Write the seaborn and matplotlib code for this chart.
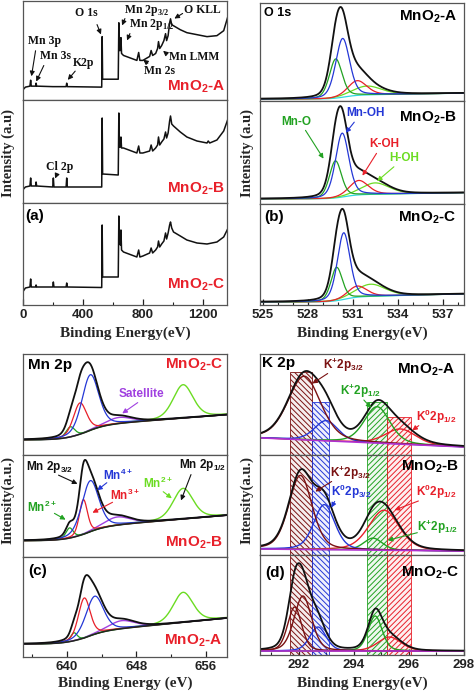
import numpy as np
import matplotlib
matplotlib.use('Agg')
import matplotlib.pyplot as plt
import seaborn as sns

# ---------------- data ----------------
# (a) survey spectra: binding energy (eV) / intensity (a.u.)
survey_names = ['A', 'B', 'C']
survey_A_E = [0, 18, 48, 53, 57, 86, 89, 93, 200, 289, 293, 297, 526, 529, 532, 636, 640, 644, 650, 654, 658, 671, 760, 772, 780, 800, 845, 855, 865, 885, 898, 904, 912, 925, 940, 951, 958, 968, 978, 984, 992, 1004, 1049, 1093, 1160, 1227, 1293, 1338, 1371]
survey_A_I = [10, 13, 14, 20, 14, 14, 17, 14, 13.5, 13.5, 17, 13.5, 13, 64, 21, 21, 78, 50, 50, 63, 47, 45, 40, 48, 40, 40, 44, 50, 45, 47, 52, 59, 52, 55, 60, 67, 60, 65, 78, 82, 76, 75, 71, 68, 66, 64, 65, 70, 87]
survey_B_E = [0, 18, 48, 53, 57, 86, 89, 93, 200, 204, 208, 289, 293, 297, 526, 529, 532, 636, 640, 644, 650, 654, 658, 671, 760, 772, 780, 800, 845, 855, 865, 885, 898, 904, 912, 925, 940, 951, 958, 968, 978, 984, 992, 1004, 1049, 1093, 1160, 1227, 1235, 1245, 1293, 1338, 1371]
survey_B_I = [13, 16, 17, 25, 17, 17, 21, 17, 16, 25, 16, 16, 25, 16, 16, 85, 29, 28, 90, 56, 56, 66, 55, 55, 50, 57, 50, 50, 52, 58, 52, 55, 58, 66, 58, 61, 64, 71, 65, 70, 82, 87, 79, 77, 71, 66, 62, 60, 62, 60, 63, 72, 86]
survey_C_E = [0, 18, 48, 53, 57, 86, 89, 93, 200, 204, 208, 289, 293, 297, 526, 529, 532, 636, 640, 644, 650, 654, 658, 671, 760, 772, 780, 800, 845, 855, 865, 885, 898, 904, 912, 925, 940, 951, 958, 968, 978, 984, 992, 1004, 1049, 1093, 1160, 1227, 1293, 1338, 1371]
survey_C_I = [13, 17, 18, 26, 18, 18, 20, 18, 18, 23, 18, 18, 22, 18, 17.5, 80, 28, 28, 89, 62, 60, 75, 55, 53, 48, 55, 48, 49, 52, 57, 52, 55, 58, 64, 58, 61, 64, 72, 66, 72, 80, 83, 77, 73, 69, 65, 62, 61, 63, 68, 78]
survey_ymax = [100, 103, 102]

# (b) O 1s fitted components (rows: MnO2-A, B, C; cols: Mn-O, Mn-OH, K-OH, H-OH)
o1s_components = ['Mn-O', 'Mn-OH', 'K-OH', 'H-OH']
o1s_center = [[529.87, 530.33, 531.3, 531.95], [529.85, 530.3, 531.4, 532.5], [529.93, 530.4, 531.3, 532.2]]
o1s_height = [[0.40, 0.60, 0.15, 0.09], [0.36, 0.62, 0.14, 0.11], [0.33, 0.66, 0.11, 0.12]]
o1s_fwhm = [[1.0, 1.1, 1.5, 2.3], [0.95, 1.05, 1.5, 2.2], [0.9, 1.0, 1.5, 2.3]]
o1s_bg = [[0.02, 0.06, 0.08], [0.05, 0.09, 0.11], [0.03, 0.08, 0.11]]

# (c) Mn 2p fitted components (rows: MnO2-C, B, A; cols: Mn2+, Mn3+, Mn4+, satellite, Mn 2p1/2)
mn2p_center = [[640.4, 641.5, 642.7, 646.0, 653.4], [640.3, 641.9, 642.7, 645.8, 653.4], [640.8, 642.0, 643.2, 646.3, 653.4]]
mn2p_height = [[0.10, 0.31, 0.55, 0.06, 0.33], [0.10, 0.34, 0.50, 0.08, 0.30], [0.08, 0.40, 0.38, 0.08, 0.30]]
mn2p_fwhm = [[1.2, 1.8, 2.3, 3.5, 2.7], [1.0, 1.1, 2.3, 3.5, 2.7], [0.9, 1.6, 2.4, 3.5, 2.7]]
mn2p_bg = [[0.15, 0.29, 0.40], [0.16, 0.29, 0.41], [0.13, 0.25, 0.39]]

# (d) K 2p fitted components (rows: MnO2-A, B, C; cols: K+2p3/2, K+2p3/2 (2nd), K0 2p3/2, K+2p1/2, K0 2p1/2)
k2p_center = [[292.2, 292.2, 293.0, 294.85, 295.7], [292.06, 292.1, 292.93, 294.7, 295.1], [291.85, 292.15, 292.7, 294.78, 295.3]]
k2p_height = [[0.63, 0.0, 0.20, 0.36, 0.15], [0.74, 0.0, 0.45, 0.12, 0.40], [0.44, 0.55, 0.24, 0.35, 0.14]]
k2p_fwhm = [[1.4, 1.0, 1.0, 1.1, 1.3], [1.0, 1.0, 0.9, 0.8, 1.3], [0.6, 0.75, 0.7, 0.6, 1.0]]
k2p_bg = [[0.17, 0.08], [0.06, 0.04], [0.04, 0.04]]
k2p_band_lo = [291.7, 292.5, 294.47, 295.2]
k2p_band_hi = [292.5, 293.1, 295.2, 296.08]
k2p_band_top = [0.82, 0.52, 0.52, 0.38]

# ---------------- style ----------------
sns.set_theme(style='white')
plt.rcParams['font.family'] = ['Liberation Sans', 'DejaVu Sans']
plt.rcParams['font.weight'] = 'bold'
plt.rcParams['mathtext.fontset'] = 'custom'
plt.rcParams['mathtext.rm'] = 'Liberation Serif:bold'
plt.rcParams['mathtext.sf'] = 'Liberation Sans:bold'
plt.rcParams['mathtext.bf'] = 'Liberation Sans:bold'
plt.rcParams['mathtext.it'] = 'Liberation Sans:bold'
plt.rcParams['hatch.linewidth'] = 0.7

W, H = 474, 694
fig = plt.figure(figsize=(W / 100, H / 100), dpi=100)
fig.patch.set_facecolor('white')


def add_ax(x0, x1, y0, y1):
    return fig.add_axes([x0 / W, 1 - y1 / H, (x1 - x0) / W, (y1 - y0) / H])


def P(x, y):
    return (x / W, 1 - y / H)


def pv(x, c, h, w, eta=0.3):
    g = np.exp(-4 * np.log(2) * ((x - c) / w) ** 2)
    lo = 1 / (1 + 4 * ((x - c) / w) ** 2)
    return h * ((1 - eta) * g + eta * lo)


def step_bg(x, lo, hi, end, c, w):
    s = lo + (hi - lo) / (1 + np.exp(-(x - c) / w))
    return s + np.clip((x - c) / (x.max() - c), 0, None) * (end - hi)


def style_ax(ax, xlim, ylim, bottom=False, major=None, minor=None):
    ax.set_xlim(*xlim)
    ax.set_ylim(*ylim)
    ax.set_yticks([])
    ax.set_xlabel('')
    ax.set_ylabel('')
    for s in ax.spines.values():
        s.set_color('#555555')
        s.set_linewidth(0.9)
    if bottom:
        ax.set_xticks(major)
        ax.set_xticks(minor, minor=True)
        ax.tick_params(axis='x', which='both', direction='in', bottom=True, top=False,
                       colors='#222222', labelsize=9.5, pad=3)
        ax.tick_params(axis='x', which='major', length=4, width=0.9)
        ax.tick_params(axis='x', which='minor', length=2.5, width=0.8)
        for t in ax.get_xticklabels():
            t.set_fontweight('bold')
    else:
        ax.set_xticks([])


def line(ax, x, y, color, lw=0.9):
    sns.lineplot(x=x, y=y, ax=ax, color=color, linewidth=lw, estimator=None, sort=False)


def lab(text, x, y, color='black', size=10.5, ha='left', serif=False, **kw):
    fam = ['Liberation Serif'] if serif else ['Liberation Sans', 'DejaVu Sans']
    fig.text(*P(x, y), text, color=color, fontsize=size, ha=ha, va='center',
             fontweight='bold', family=fam, **kw)


def arrow(text, xt, yt, xa, ya, color, size=8.5, ha='center', serif=False, tip=None):
    fam = ['Liberation Serif'] if serif else ['Liberation Sans', 'DejaVu Sans']
    fig.text(*P(xt, yt), text, color=color, fontsize=size, ha=ha, va='center',
             fontweight='bold', family=fam)
    x0, y0 = tip
    fig.add_artist(matplotlib.patches.FancyArrowPatch(P(x0, y0), P(xa, ya), transform=fig.transFigure,
                   arrowstyle='-|>', mutation_scale=7, color=color, lw=0.8))


RED = '#e8202a'
BLUE = '#2437d6'
GREEN = '#22a222'
LGREEN = '#6bdc22'
PURPLE = '#a040e0'
DRED = '#7a1212'
CYAN = '#30d8e0'

# ---------------- (a) survey ----------------
a_rows = [(1, 100), (100, 203), (203, 305)]
survey_E = [survey_A_E, survey_B_E, survey_C_E]
survey_I = [survey_A_I, survey_B_I, survey_C_I]
for i, (y0, y1) in enumerate(a_rows):
    ax = add_ax(22.7, 227.3, y0, y1)
    line(ax, np.array(survey_E[i]), np.array(survey_I[i]), '#111111', lw=1.1)
    style_ax(ax, (0, 1362), (0, survey_ymax[i]), bottom=(i == 2),
             major=[0, 400, 800, 1200], minor=np.arange(0, 1400, 200))

lab(r'MnO$_\mathsf{2}$-A', 225, 87, color=RED, size=11, ha='right')
lab(r'MnO$_\mathsf{2}$-B', 225, 189, color=RED, size=11, ha='right')
lab(r'MnO$_\mathsf{2}$-C', 225, 285, color=RED, size=11, ha='right')
lab('(a)', 25, 216, size=11)
arrow('O 1s', 86, 13, 102, 37, '#111111', size=8.5, serif=True, tip=(96, 22))
arrow(r'Mn 2p$_{\mathrm{3/2}}$', 147, 10, 121, 28, '#111111', size=8.5, serif=True, tip=(126, 16))
arrow('O KLL', 202, 10, 172, 20, '#111111', size=8.5, serif=True, tip=(185, 12))
arrow(r'Mn 2p$_{\mathrm{1/2}}$', 152, 25, 126, 43, '#111111', size=8.5, serif=True, tip=(131, 31))
arrow('Mn LMM', 194, 57, 161, 49, '#111111', size=8.5, serif=True, tip=(168, 55))
arrow('Mn 2s', 159, 71, 141, 58, '#111111', size=8.5, serif=True, tip=(150, 65))
arrow('Mn 3p', 44, 41, 31, 79, '#111111', size=8.5, serif=True, tip=(36, 48))
arrow('Mn 3s', 56, 56, 35, 84, '#111111', size=8.5, serif=True, tip=(45, 63))
arrow('K2p', 84, 63, 66, 82, '#111111', size=8.5, serif=True, tip=(77, 69))
arrow('Cl 2p', 60, 167, 54, 181, '#111111', size=8.5, serif=True, tip=(57, 174))

# ---------------- (b) O 1s ----------------
b_rows = [(3, 101), (101, 204), (204, 305)]
xb = np.linspace(524.8, 538.4, 700)
o1s_colors = [GREEN, BLUE, RED, LGREEN]
for i, (y0, y1) in enumerate(b_rows):
    ax = add_ax(259.7, 463.7, y0, y1)
    bg = step_bg(xb, o1s_bg[i][0], o1s_bg[i][1], o1s_bg[i][2], 530.4, 0.45)
    comps = [pv(xb, o1s_center[i][k], o1s_height[i][k], o1s_fwhm[i][k]) for k in range(4)]
    line(ax, xb, bg, CYAN, lw=0.9)
    for k in [3, 2, 0, 1]:
        line(ax, xb, bg + comps[k], o1s_colors[k], lw=0.9)
    line(ax, xb, bg + sum(comps), '#111111', lw=1.3)
    style_ax(ax, (524.8, 538.4), (0, 1), bottom=(i == 2),
             major=[525, 528, 531, 534, 537], minor=np.arange(525, 539, 1))

lab('O 1s', 264, 13, size=9)
lab(r'MnO$_\mathsf{2}$-A', 457, 17, size=11, ha='right')
lab(r'MnO$_\mathsf{2}$-B', 457, 118, size=11, ha='right')
lab(r'MnO$_\mathsf{2}$-C', 456, 218, size=11, ha='right')
lab('(b)', 264, 217, size=11)
arrow('Mn-O', 296, 122, 325, 161, GREEN, tip=(304, 128))
arrow('Mn-OH', 365, 113, 344, 135, BLUE, tip=(356, 120))
arrow('K-OH', 384, 144, 361, 178, RED, tip=(378, 151))
arrow('H-OH', 404, 158, 375, 183, LGREEN, tip=(396, 165))

# ---------------- (c) Mn 2p ----------------
c_rows = [(354, 455), (455, 557), (557, 657)]
xc = np.linspace(634.9, 658.5, 800)
mn_colors = [GREEN, RED, BLUE, PURPLE, LGREEN]
for i, (y0, y1) in enumerate(c_rows):
    ax = add_ax(22.7, 227.3, y0, y1)
    bg = step_bg(xc, mn2p_bg[i][0], mn2p_bg[i][1], mn2p_bg[i][2], 642.0, 1.2)
    comps = [pv(xc, mn2p_center[i][k], mn2p_height[i][k], mn2p_fwhm[i][k]) for k in range(5)]
    line(ax, xc, bg + comps[4], LGREEN, lw=1.0)
    line(ax, xc, bg + comps[3], PURPLE, lw=1.0)
    for k in [0, 1, 2]:
        line(ax, xc, bg + comps[k], mn_colors[k], lw=0.9)
    line(ax, xc, bg, '#222222', lw=1.1)
    line(ax, xc, bg + comps[0] + comps[1] + comps[2] + comps[3], '#111111', lw=1.3)
    style_ax(ax, (634.9, 658.5), (0, 1), bottom=(i == 2),
             major=[640, 648, 656], minor=np.arange(636, 660, 4))

lab('Mn 2p', 28, 365, size=11)
lab(r'MnO$_\mathsf{2}$-C', 223, 365, color=RED, size=11, ha='right')
lab(r'MnO$_\mathsf{2}$-B', 223, 543, color=RED, size=11, ha='right')
lab(r'MnO$_\mathsf{2}$-A', 222, 641, color=RED, size=11, ha='right')
lab('(c)', 28, 571, size=11)
arrow('Satellite', 141, 394, 120, 415, PURPLE, tip=(140, 401))
arrow(r'Mn 2p$_{\mathsf{3/2}}$', 50, 467, 80, 485, '#111111', tip=(56, 474))
arrow(r'Mn$^{\mathsf{4+}}$', 118, 475, 95, 492, BLUE, tip=(109, 481))
arrow(r'Mn$^{\mathsf{3+}}$', 125, 495, 90, 514, RED, tip=(115, 501))
arrow(r'Mn$^{\mathsf{2+}}$', 42, 507, 68, 521, GREEN, tip=(52, 512))
arrow(r'Mn$^{\mathsf{2+}}$', 158, 483, 174, 500, LGREEN, tip=(161, 490))
arrow(r'Mn 2p$_{\mathsf{1/2}}$', 203, 465, 180, 503, '#111111', tip=(192, 472))

# ---------------- (d) K 2p ----------------
d_rows = [(354, 455), (455, 555), (555, 655)]
xd = np.linspace(290.58, 298.0, 700)
k_colors = [DRED, DRED, BLUE, GREEN, RED]
band_colors = [DRED, BLUE, GREEN, RED]
band_hatch = ['\\\\\\\\\\\\', '\\\\\\\\\\\\', '//////', '//////']
for i, (y0, y1) in enumerate(d_rows):
    ax = add_ax(259.7, 463.7, y0, y1)
    for b in range(4):
        top = k2p_band_top[b] if i == 0 else 1.0
        ax.axvspan(k2p_band_lo[b], k2p_band_hi[b], ymin=0, ymax=top,
                   facecolor=matplotlib.colors.to_rgba(band_colors[b], 0.07),
                   edgecolor=band_colors[b], hatch=band_hatch[b], lw=0.6)
    bg = k2p_bg[i][0] + (k2p_bg[i][1] - k2p_bg[i][0]) * (xd - xd[0]) / (xd[-1] - xd[0])
    comps = [pv(xd, k2p_center[i][k], k2p_height[i][k], k2p_fwhm[i][k]) for k in range(5)]
    for k in [4, 3, 2, 0, 1]:
        if k2p_height[i][k] > 0:
            line(ax, xd, bg + comps[k], k_colors[k], lw=1.0)
    line(ax, xd, bg, '#b030d0', lw=1.2)
    line(ax, xd, bg + sum(comps), '#111111', lw=1.3)
    style_ax(ax, (290.58, 298.0), (0, 1), bottom=(i == 2),
             major=[292, 294, 296, 298], minor=np.arange(291, 299, 1))

lab('K 2p', 262, 363, size=11)
lab(r'MnO$_\mathsf{2}$-A', 455, 370, size=11, ha='right')
lab(r'MnO$_\mathsf{2}$-B', 459, 467, size=11, ha='right')
lab(r'MnO$_\mathsf{2}$-C', 459, 573, size=11, ha='right')
lab('(d)', 265, 573, size=11)
arrow(r'K$^{\mathsf{+}}$2p$_{\mathsf{3/2}}$', 343, 365, 310, 385, DRED, tip=(330, 372))
arrow(r'K$^{\mathsf{+}}$2p$_{\mathsf{1/2}}$', 360, 391, 373, 410, GREEN, tip=(362, 398))
arrow(r'K$^{\mathsf{0}}$2p$_{\mathsf{1/2}}$', 436, 417, 410, 432, RED, tip=(421, 424))
arrow(r'K$^{\mathsf{+}}$2p$_{\mathsf{3/2}}$', 350, 473, 313, 493, DRED, tip=(334, 480))
arrow(r'K$^{\mathsf{0}}$2p$_{\mathsf{3/2}}$', 351, 492, 330, 510, BLUE, tip=(336, 499))
arrow(r'K$^{\mathsf{0}}$2p$_{\mathsf{1/2}}$', 436, 492, 392, 511, RED, tip=(421, 500))
arrow(r'K$^{\mathsf{+}}$2p$_{\mathsf{1/2}}$', 437, 527, 385, 541, GREEN, tip=(420, 532))

# ---------------- axis titles ----------------
serif = ['Liberation Serif']
for (x, y, t) in [(125, 333, 'Binding Energy(eV)'), (362, 333, 'Binding Energy(eV)'),
                  (125, 683, 'Binding Energy (eV)'), (362, 683, 'Binding Energy(eV)')]:
    fig.text(*P(x, y), t, ha='center', va='center', fontsize=11, fontweight='bold', family=serif)
for (x, y, t) in [(8, 153, 'Intensity (a.u)'), (247, 153, 'Intensity (a.u)'),
                  (8, 500, 'Intensity(a.u.)'), (247, 500, 'Intensity(a.u.)')]:
    fig.text(*P(x, y), t, ha='center', va='center', rotation=90, fontsize=10.5,
             fontweight='bold', family=serif)

fig.savefig('out.png', dpi=100, facecolor='white')
